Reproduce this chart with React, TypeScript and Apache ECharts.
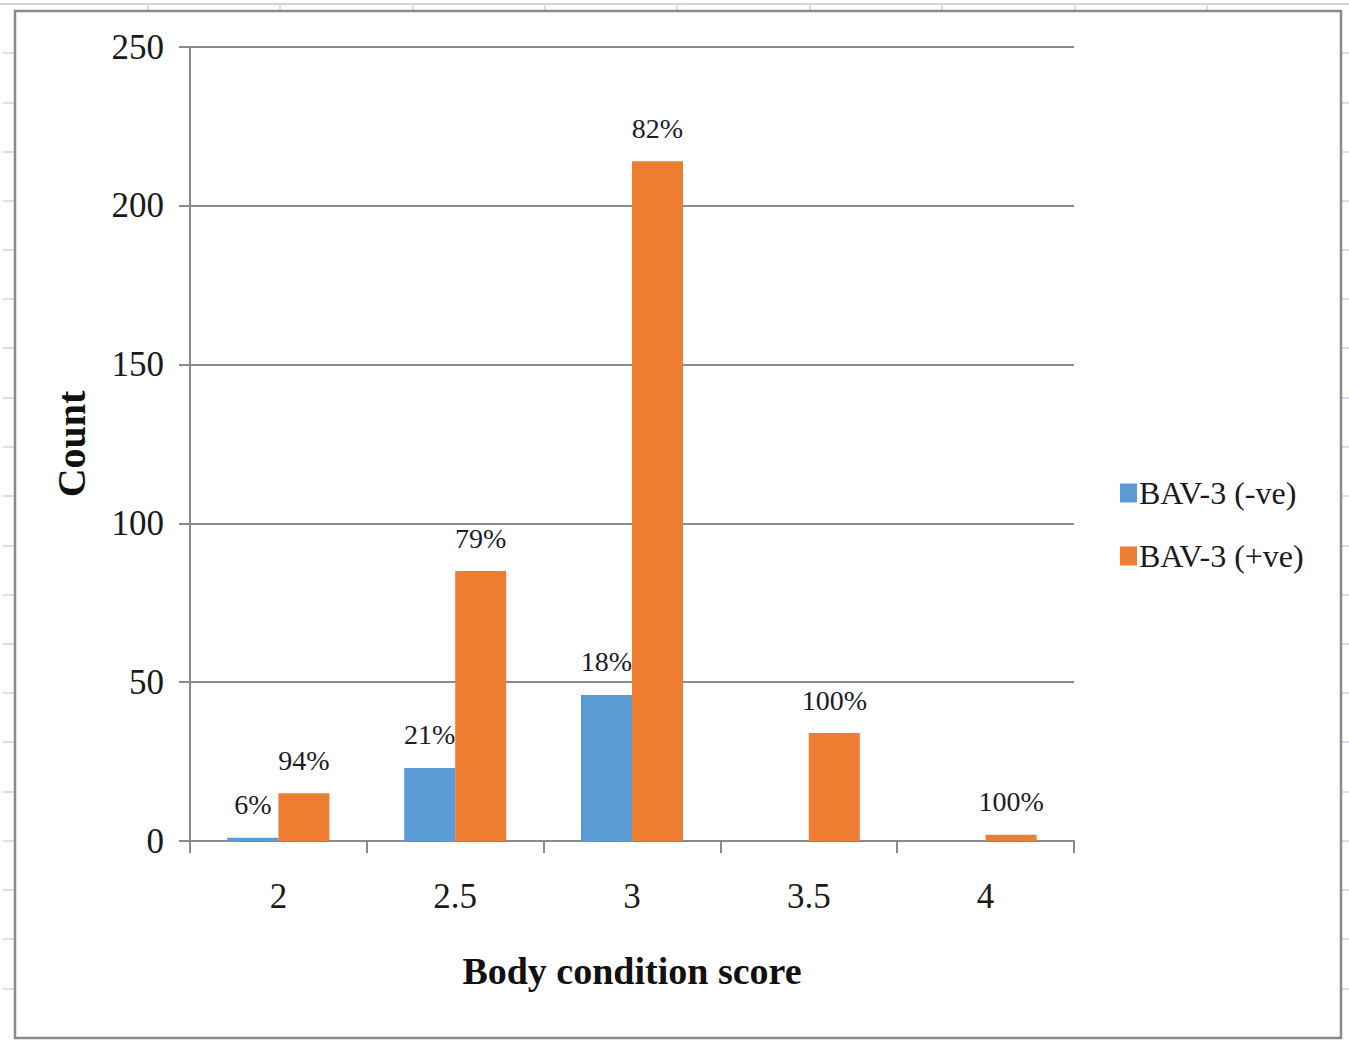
import React, { useEffect, useRef } from "react";
import * as echarts from "echarts";

const categories = ["2", "2.5", "3", "3.5", "4"];
const negValues = [1, 23, 46, 0, 0];
const posValues = [15, 85, 214, 34, 2];
const negLabels = ["6%", "21%", "18%", "", ""];
const posLabels = ["94%", "79%", "82%", "100%", "100%"];
const seriesNames = ["BAV-3 (-ve)", "BAV-3 (+ve)"];
const yTicks = { min: 0, max: 250, interval: 50 };
const xTitle = "Body condition score";
const yTitle = "Count";

const W = 1349;
const H = 1040;
const FONT = "'Liberation Serif', 'Times New Roman', serif";
const GRAY = "#8a8a8a";
const SHEET = "#cdd5e3";

export default function App() {
  const ref = useRef<HTMLDivElement>(null);
  useEffect(() => {
    document.body.style.margin = "0";
    const chart = echarts.init(ref.current!, null, { renderer: "svg" });

    const sheetMarks: any[] = [];
    sheetMarks.push({
      type: "line",
      shape: { x1: 0, y1: 4, x2: W, y2: 4 },
      style: { stroke: SHEET, lineWidth: 2 },
      z: -10,
    });
    [148, 280, 413, 545, 677, 810, 942, 1075, 1207].forEach((x) =>
      sheetMarks.push({
        type: "line",
        shape: { x1: x, y1: 3, x2: x, y2: 11 },
        style: { stroke: SHEET, lineWidth: 1.5 },
        z: -10,
      })
    );
    [53, 103, 152, 201, 250, 299, 348, 398, 447, 496, 546, 595, 644, 693, 742, 792, 841, 890, 939, 989].forEach((y) => {
      sheetMarks.push({
        type: "line",
        shape: { x1: 3, y1: y, x2: 14, y2: y },
        style: { stroke: SHEET, lineWidth: 1.5 },
        z: -10,
      });
      sheetMarks.push({
        type: "line",
        shape: { x1: 1342, y1: y, x2: W, y2: y },
        style: { stroke: SHEET, lineWidth: 1.5 },
        z: -10,
      });
    });

    const labelStyle = {
      show: true,
      position: "top",
      distance: 19,
      fontFamily: FONT,
      fontSize: 28,
      color: "#1c1c2a",
    };

    chart.setOption({
      animation: false,
      backgroundColor: "#ffffff",
      textStyle: { fontFamily: FONT },
      graphic: [
        ...sheetMarks,
        {
          type: "rect",
          shape: { x: 15, y: 11, width: 1326, height: 1027 },
          style: { fill: "none", stroke: GRAY, lineWidth: 2.5 },
          z: -5,
        },
      ],
      grid: { left: 190, top: 47, width: 884, height: 794 },
      legend: {
        orient: "vertical",
        left: 1115,
        top: 468,
        itemWidth: 17,
        itemHeight: 19,
        itemGap: 23,
        icon: "rect",
        textStyle: {
          fontFamily: FONT,
          fontSize: 32,
          lineHeight: 40,
          color: "#1a1a1a",
          padding: [0, 0, 0, -3],
        },
        data: seriesNames,
      },
      xAxis: {
        type: "category",
        data: categories,
        name: xTitle,
        nameLocation: "middle",
        nameGap: 111,
        nameTextStyle: { fontFamily: FONT, fontSize: 38, fontWeight: "bold", color: "#111" },
        axisLine: { show: true, lineStyle: { color: GRAY, width: 2 } },
        axisTick: { show: true, length: 12, lineStyle: { color: GRAY, width: 2 } },
        axisLabel: { fontFamily: FONT, fontSize: 35, color: "#1a1a1a", margin: 38 },
      },
      yAxis: {
        type: "value",
        min: yTicks.min,
        max: yTicks.max,
        interval: yTicks.interval,
        name: yTitle,
        nameLocation: "middle",
        nameGap: 99,
        nameRotate: 90,
        nameTextStyle: { fontFamily: FONT, fontSize: 40, fontWeight: "bold", color: "#111" },
        axisLine: { show: true, lineStyle: { color: GRAY, width: 2 } },
        axisTick: { show: true, length: 11, lineStyle: { color: GRAY, width: 2 } },
        axisLabel: { fontFamily: FONT, fontSize: 35, color: "#1a1a1a", margin: 26 },
        splitLine: { show: true, lineStyle: { color: GRAY, width: 2 } },
      },
      series: [
        {
          name: seriesNames[0],
          type: "bar",
          barWidth: 51,
          barGap: "0%",
          itemStyle: { color: "#5B9BD5" },
          label: { ...labelStyle, formatter: (p: any) => negLabels[p.dataIndex] },
          data: negValues,
        },
        {
          name: seriesNames[1],
          type: "bar",
          barWidth: 51,
          barGap: "0%",
          itemStyle: { color: "#ED7D31" },
          label: { ...labelStyle, formatter: (p: any) => posLabels[p.dataIndex] },
          data: posValues,
        },
      ],
    });
    return () => chart.dispose();
  }, []);
  return <div ref={ref} style={{ width: W, height: H }} />;
}
